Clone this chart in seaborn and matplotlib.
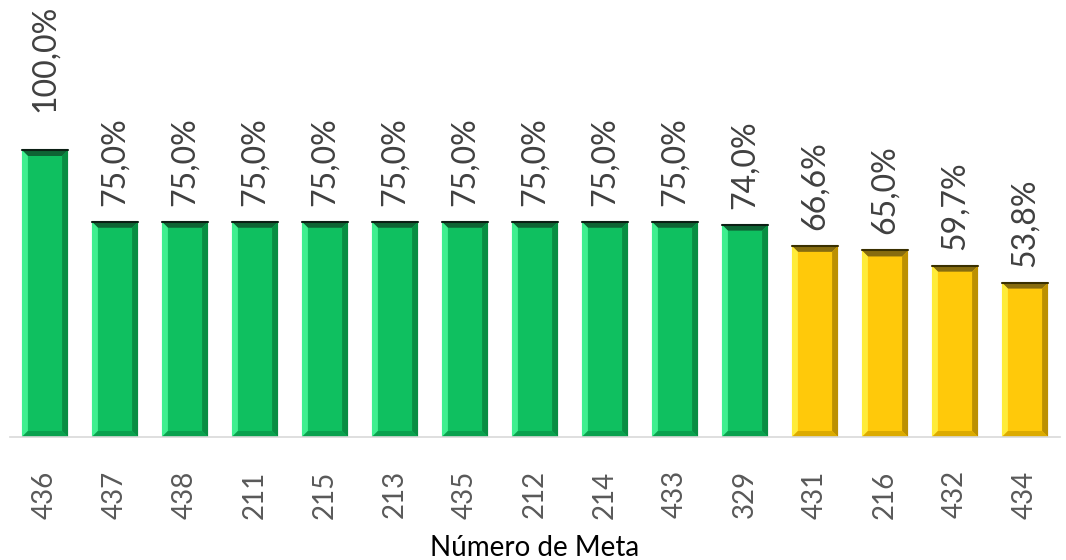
import numpy as np
import pandas as pd
import matplotlib
matplotlib.use("Agg")
import matplotlib.pyplot as plt
from matplotlib.patches import Polygon
import seaborn as sns

metas = ['436', '437', '438', '211', '215', '213', '435', '212', '214', '433', '329', '431', '216', '432', '434']
avance = [100.0, 75.0, 75.0, 75.0, 75.0, 75.0, 75.0, 75.0, 75.0, 75.0, 74.0, 66.6, 65.0, 59.7, 53.8]
grupo = ['alto'] * 11 + ['medio'] * 4

colores = {'alto': '#0FC060', 'medio': '#FFC90A'}
bisel = {
    'alto': {'top': '#0E5A30', 'left': '#45F595', 'right': '#08883F', 'bottom': '#0A9E4C', 'line': '#0B1F14'},
    'medio': {'top': '#7A6210', 'left': '#FFF040', 'right': '#B58A00', 'bottom': '#D9A800', 'line': '#3A3000'},
}

df = pd.DataFrame({'meta': metas, 'avance': avance, 'grupo': grupo})

sns.set_style('white')
plt.rcParams['font.family'] = ['Lato', 'DejaVu Sans']

fig = plt.figure(figsize=(10.66, 5.6), dpi=100)
ax = fig.add_axes([10 / 1066, 123 / 560, 1050 / 1066, 437 / 560])

sns.barplot(data=df, x='meta', y='avance', hue='grupo', order=metas,
            palette=colores, saturation=1, dodge=False, legend=False, width=0.66,
            linewidth=0, ax=ax)

ax.set_xlim(-0.5, len(metas) - 0.5)
ax.set_ylim(0, 437 / 2.87)

# bevel look, built from the bar geometry
px_x = 1050 / len(metas)
px_y = 2.87
bx = 6 / px_x
by = 6 / px_y
for bar in ax.patches:
    h = bar.get_height()
    if h <= 0:
        continue
    x0 = bar.get_x()
    w = bar.get_width()
    c = bisel['alto'] if h >= 70 else bisel['medio']
    ax.add_patch(Polygon([(x0, h), (x0 + w, h), (x0 + w - bx, h - by), (x0 + bx, h - by)],
                         closed=True, color=c['top'], lw=0, alpha=0.9))
    ax.add_patch(Polygon([(x0, 0), (x0, h), (x0 + bx, h - by), (x0 + bx, by)],
                         closed=True, color=c['left'], lw=0, alpha=0.9))
    ax.add_patch(Polygon([(x0 + w, 0), (x0 + w, h), (x0 + w - bx, h - by), (x0 + w - bx, by)],
                         closed=True, color=c['right'], lw=0, alpha=0.9))
    ax.add_patch(Polygon([(x0, 0), (x0 + w, 0), (x0 + w - bx, by), (x0 + bx, by)],
                         closed=True, color=c['bottom'], lw=0, alpha=0.9))
    ax.plot([x0, x0 + w], [h, h], color=c['line'], lw=1.5)

# value labels (the tallest one is pushed to the top of the plot area)
top = ax.get_ylim()[1]
for i, v in enumerate(avance):
    txt = f'{v:.1f}%'.replace('.', ',')
    if v == max(avance):
        ax.text(i, top - 5 / px_y, txt, rotation=90, ha='center', va='top',
                fontsize=23, color='#404040')
    else:
        ax.text(i, v + 16 / px_y, txt, rotation=90, ha='center', va='bottom',
                fontsize=23, color='#404040')

sns.despine(ax=ax, left=True, top=True, right=True)
ax.spines['bottom'].set_color('#D9D9D9')
ax.spines['bottom'].set_linewidth(1.2)
ax.set_yticks([])
ax.set_ylabel('')
ax.tick_params(axis='x', length=0, pad=24, labelsize=20, labelcolor='#595959', rotation=90)
ax.set_xlabel('Número de Meta', fontsize=20, color='#000000', labelpad=12)

fig.savefig('out.png', dpi=100)
